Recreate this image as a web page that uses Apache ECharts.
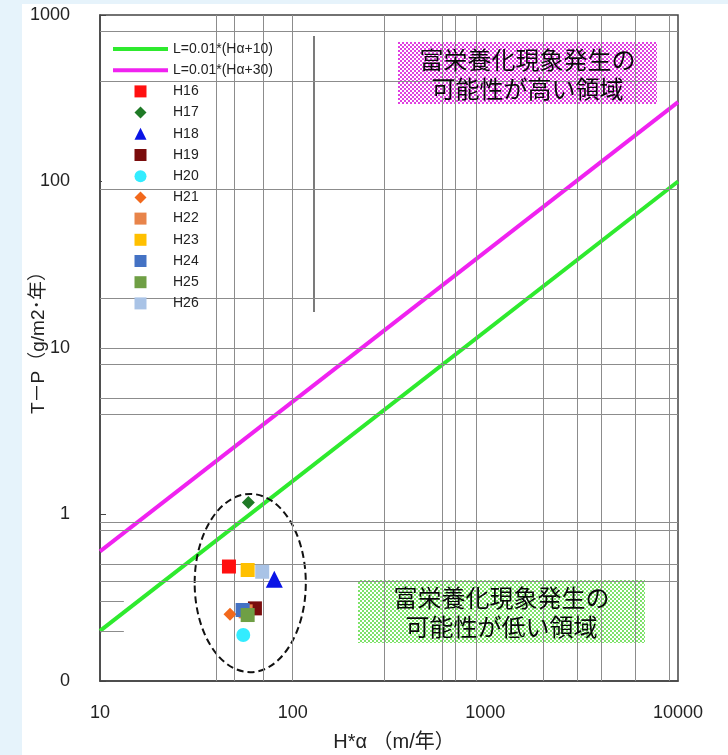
<!DOCTYPE html>
<html><head><meta charset="utf-8">
<script src="https://cdn.jsdelivr.net/npm/echarts@6/dist/echarts.min.js"></script>
<style>
html,body{margin:0;padding:0;background:#e6f3fb;}
#wrap{position:absolute;left:22px;top:4px;width:706px;height:751px;background:#fff;}
#c{position:absolute;left:0;top:0;width:728px;height:755px;}
</style></head>
<body><div id="wrap"></div><div id="c"></div>
<script>
// ---- data ----
const lineX = [10, 10000];
const lineGreen = [0.2, 100];
const lineMagenta = [0.6, 300];
const lineNames = ['L=0.01*(Hα+10)', 'L=0.01*(Hα+30)'];
const yearNames = ['H16','H17','H18','H19','H20','H21','H22','H23','H24','H25','H26'];
const yearX = [46.7, 58.9, 80.3, 63.7, 55.4, 47.3, 57.0, 58.4, 55.0, 58.4, 69.5];
const yearY = [0.487, 1.18, 0.408, 0.273, 0.189, 0.252, 0.262, 0.464, 0.267, 0.249, 0.453];
const yearColors = ['#ff1010','#1f7a26','#0a14e6','#7a0c0c','#33ecff','#f2691c','#e8844a','#ffc000','#4472c4','#6f9f45','#a9c3e6'];
const yearSymbols = ['rect','diamond','triangle','rect','circle','diamond','rect','rect','rect','rect','rect'];
const vGrid = [40, 50, 70, 100, 300, 600, 700, 900, 2000, 3000, 4000, 6000, 9000];
const hGrid = [800, 400, 90, 20, 10, 8, 5, 4, 0.9, 0.8, 0.5, 0.4];
const shortTicksY = [0.3, 0.2];
const ellipseX = [31, 117];
const ellipseY = [0.113, 1.33];

const FONT = "'Liberation Sans','Noto Sans CJK JP',sans-serif";
const JFONT = "'Noto Sans CJK JP','Noto Sans',sans-serif";

const iconPaths = {
  rect:'path://M0,0L1,0L1,1L0,1Z',
  diamond:'path://M0.5,0L1,0.5L0.5,1L0,0.5Z',
  triangle:'path://M0.5,0L1,1L0,1Z',
  circle:'path://M0.5,0A0.5,0.5,0,1,1,0.5,1A0.5,0.5,0,1,1,0.5,0Z'
};
const lineIcon = 'path://M0,0L55,0L55,4L0,4Z';

function checker(c1){
  const cv=document.createElement('canvas'); cv.width=4; cv.height=4;
  const g=cv.getContext('2d'); g.fillStyle='#ffffff'; g.fillRect(0,0,4,4);
  g.fillStyle=c1; g.fillRect(0,0,2,2); g.fillRect(2,2,2,2);
  return {image:cv, repeat:'repeat'};
}

const chart = echarts.init(document.getElementById('c'), null, {renderer:'canvas'});
const series = [];
series.push({
  type:'line', name:'_grid', data:[], silent:true, z:1,
  markLine:{silent:true, symbol:['none','none'], label:{show:false}, animation:false,
    lineStyle:{color:'#8c8c8c', width:1, type:'solid'},
    data: vGrid.map(v=>({xAxis:v})).concat(hGrid.map(v=>({yAxis:v})))
      .concat(shortTicksY.map(v=>[{coord:[10,v]},{coord:[13.3,v]}]))}
});
series.push({type:'line', name:lineNames[0], data:lineX.map((x,i)=>[x,lineGreen[i]]),
  symbol:'none', lineStyle:{color:'#2eea2e', width:4}, itemStyle:{color:'#2eea2e'}, z:3});
series.push({type:'line', name:lineNames[1], data:lineX.map((x,i)=>[x,lineMagenta[i]]),
  symbol:'none', lineStyle:{color:'#f022f0', width:4}, itemStyle:{color:'#f022f0'}, z:3});
yearNames.forEach((n,i)=>{
  let size = yearSymbols[i]==='triangle'?17:(yearSymbols[i]==='diamond'?13:14);
  series.push({type:'scatter', name:n, data:[[yearX[i], yearY[i]]], symbol:yearSymbols[i],
    symbolSize:size, itemStyle:{color:yearColors[i], opacity:1}, z:5});
});

const legendData = lineNames.map(n=>({name:n, icon:lineIcon}))
  .concat(yearNames.map((n,i)=>({name:n, icon:iconPaths[yearSymbols[i]]})));

chart.setOption({
  animation:false,
  grid:{left:100, right:50, top:15, bottom:74, show:true, borderColor:'#444', borderWidth:1.5,
    backgroundColor:'transparent', containLabel:false, outerBoundsMode:'none'},
  xAxis:{type:'log', logBase:10, min:10, max:10000,
    name:'H*α （m/年）', nameLocation:'middle', nameGap:51, nameMoveOverlap:false,
    nameTextStyle:{fontFamily:FONT, fontSize:20, color:'#222', padding:[0,0,0,10]},
    axisLine:{show:true, lineStyle:{color:'#444', width:1.5}},
    axisTick:{show:false}, splitLine:{show:false}, minorSplitLine:{show:false},
    axisLabel:{fontFamily:FONT, fontSize:18, color:'#222', margin:23,
      formatter:v=>String(v)}},
  yAxis:{type:'log', logBase:10, min:0.1, max:1000,
    name:'T－P（g/m2･年）', nameLocation:'middle', nameGap:52, nameRotate:90, nameMoveOverlap:false,
    nameTextStyle:{fontFamily:FONT, fontSize:19, color:'#222', padding:[0,0,0,20]},
    axisLine:{show:true, lineStyle:{color:'#444', width:1.5}},
    axisTick:{show:true, inside:true, length:6, lineStyle:{color:'#444'}},
    splitLine:{show:false},
    axisLabel:{fontFamily:FONT, fontSize:18, color:'#222', margin:30,
      formatter:v=>(v<1?'0':String(Math.round(v)))}},
  legend:{
    data: legendData,
    orient:'vertical', left:105, top:38, itemWidth:55, itemHeight:12, itemGap:7.2,
    symbolKeepAspect:true,
    textStyle:{fontFamily:FONT, fontSize:14, color:'#222'}, z:6, padding:[4,0,0,8]
  },
  series:series
});

function draw(){
  const p1 = chart.convertToPixel({gridIndex:0},[ellipseX[0], ellipseY[1]]);
  const p2 = chart.convertToPixel({gridIndex:0},[ellipseX[1], ellipseY[0]]);
  const cx=(p1[0]+p2[0])/2, cy=(p1[1]+p2[1])/2, rx=(p2[0]-p1[0])/2, ry=(p2[1]-p1[1])/2;
  chart.setOption({graphic:[
    {type:'rect', z:4, silent:true, shape:{x:102, y:36, width:212, height:277}, style:{fill:'#ffffff'}},
    {type:'line', z:4, silent:true, shape:{x1:314, y1:36, x2:314, y2:312}, style:{stroke:'#222', lineWidth:1.2}},
    {type:'rect', z:4, silent:true, shape:{x:398, y:42, width:259, height:62}, style:{fill:checker('#e040e0')}},
    {type:'text', z:5, silent:true, x:527.5, y:74, style:{text:'富栄養化現象発生の\n可能性が高い領域', fill:'#0a0a0a', font:'24px '+JFONT, align:'center', verticalAlign:'middle', lineHeight:29}},
    {type:'rect', z:4, silent:true, shape:{x:358, y:580, width:287, height:63}, style:{fill:checker('#7ee26a')}},
    {type:'text', z:5, silent:true, x:501.5, y:612, style:{text:'富栄養化現象発生の\n可能性が低い領域', fill:'#0a0a0a', font:'24px '+JFONT, align:'center', verticalAlign:'middle', lineHeight:29}},
    {type:'ellipse', z:4, silent:true, shape:{cx:cx, cy:cy, rx:rx, ry:ry}, style:{fill:'none', stroke:'#111', lineWidth:2, lineDash:[7,4]}}
  ]});
}
draw();
</script>
</body></html>
